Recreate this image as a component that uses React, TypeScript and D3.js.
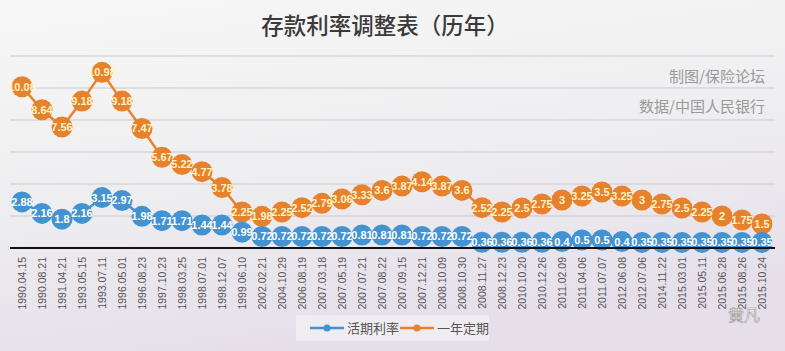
import * as d3 from "d3";

const width = 785;
const height = 351;

const dates = [
  "1990.04.15", "1990.08.21", "1991.04.21", "1993.05.15", "1993.07.11", "1996.05.01",
  "1996.08.23", "1997.10.23", "1998.03.25", "1998.07.01", "1998.12.07", "1999.06.10",
  "2002.02.21", "2004.10.29", "2006.08.19", "2007.03.18", "2007.05.19", "2007.07.21",
  "2007.08.22", "2007.09.15", "2007.12.21", "2008.10.09", "2008.10.30", "2008.11.27",
  "2008.12.23", "2010.10.20", "2010.12.26", "2011.02.09", "2011.04.06", "2011.07.07",
  "2012.06.08", "2012.07.06", "2014.11.22", "2015.03.01", "2015.05.11", "2015.06.28",
  "2015.08.26", "2015.10.24",
];

const demand = [
  2.88, 2.16, 1.8, 2.16, 3.15, 2.97, 1.98, 1.71, 1.71, 1.44, 1.44, 0.99, 0.72, 0.72,
  0.72, 0.72, 0.72, 0.81, 0.81, 0.81, 0.72, 0.72, 0.72, 0.36, 0.36, 0.36, 0.36, 0.4,
  0.5, 0.5, 0.4, 0.35, 0.35, 0.35, 0.35, 0.35, 0.35, 0.35,
];

const oneYear = [
  10.08, 8.64, 7.56, 9.18, 10.98, 9.18, 7.47, 5.67, 5.22, 4.77, 3.78, 2.25, 1.98, 2.25,
  2.52, 2.79, 3.06, 3.33, 3.6, 3.87, 4.14, 3.87, 3.6, 2.52, 2.25, 2.5, 2.75, 3, 3.25,
  3.5, 3.25, 3, 2.75, 2.5, 2.25, 2, 1.75, 1.5,
];

const yTicks = [2, 4, 6, 8, 10, 12];

const blue = "#4393d3";
const orange = "#e8812c";

export default function App() {
  const x = d3.scalePoint<string>().domain(dates).range([22, 762]);
  const y = d3.scaleLinear().domain([0, 12]).range([248, 56]);

  const line = d3
    .line<number>()
    .x((_, i) => x(dates[i]) as number)
    .y((d) => y(d));

  const series = [
    { name: "一年定期", values: oneYear, color: orange, text: "#fff4c8" },
    { name: "活期利率", values: demand, color: blue, text: "#ffffff" },
  ];

  const numFont = "'Liberation Sans', Arial, sans-serif";
  const cjk = "'Noto Sans CJK SC', sans-serif";

  return (
    <svg
      width={width}
      height={height}
      style={{ position: "absolute", left: 0, top: 0, display: "block" }}
    >
      <defs>
        <linearGradient id="bg" x1="0%" y1="0%" x2="30%" y2="100%">
          <stop offset="0%" stopColor="#f7f7f7" />
          <stop offset="55%" stopColor="#eeeef0" />
          <stop offset="100%" stopColor="#e6dfea" />
        </linearGradient>
      </defs>
      <rect width={width} height={height} fill="url(#bg)" />

      <text
        x={385}
        y={34}
        textAnchor="middle"
        fontFamily={cjk}
        fontSize={22.5}
        fontWeight={500}
        fill="#3a3a3a"
      >
        存款利率调整表（历年）
      </text>

      {yTicks.map((t) => (
        <line
          key={t}
          x1={10}
          x2={775}
          y1={y(t)}
          y2={y(t)}
          stroke="#c9c9cc"
          strokeWidth={1}
        />
      ))}

      <text x={765} y={82} textAnchor="end" fontFamily={cjk} fontSize={15} fill="#999">
        制图/保险论坛
      </text>
      <text x={765} y={112} textAnchor="end" fontFamily={cjk} fontSize={15} fill="#999">
        数据/中国人民银行
      </text>

      {series.map((s) => (
        <g key={s.name}>
          <path d={line(s.values) ?? ""} fill="none" stroke={s.color} strokeWidth={2.5} />
          {s.values.map((v, i) => (
            <circle key={i} cx={x(dates[i])} cy={y(v)} r={10.5} fill={s.color} />
          ))}
        </g>
      ))}

      <line x1={10} x2={775} y1={y(0)} y2={y(0)} stroke="#111" strokeWidth={2} />

      {series.map((s) => (
        <g key={s.name + "-lab"}>
          {s.values.map((v, i) => (
            <text
              key={i}
              x={x(dates[i])}
              y={y(v) + 4}
              textAnchor="middle"
              fontFamily={numFont}
              fontSize={11}
              fontWeight="bold"
              fill={s.text}
            >
              {v}
            </text>
          ))}
        </g>
      ))}

      {dates.map((d) => (
        <text
          key={d}
          transform={`translate(${(x(d) as number) + 4},257) rotate(-90)`}
          textAnchor="end"
          fontFamily={numFont}
          fontSize={10.5}
          fill="#555"
        >
          {d}
        </text>
      ))}

      <rect x={296} y={315} width={193} height={26} fill="#f2f0f4" opacity={0.8} />
      <g transform="translate(310,328)">
        <line x1={0} x2={34} y1={0} y2={0} stroke={blue} strokeWidth={2.5} />
        <circle cx={17} cy={0} r={3.5} fill={blue} />
        <text x={37} y={5} fontFamily={cjk} fontSize={13} fill="#555">
          活期利率
        </text>
      </g>
      <g transform="translate(400,328)">
        <line x1={0} x2={34} y1={0} y2={0} stroke={orange} strokeWidth={2.5} />
        <circle cx={17} cy={0} r={3.5} fill={orange} />
        <text x={37} y={5} fontFamily={cjk} fontSize={13} fill="#555">
          一年定期
        </text>
      </g>

      <text x={760} y={321} textAnchor="end" fontFamily={cjk} fontSize={16} fill="#fff" stroke="#999" strokeWidth={0.6}>
        黄凡
      </text>
    </svg>
  );
}
